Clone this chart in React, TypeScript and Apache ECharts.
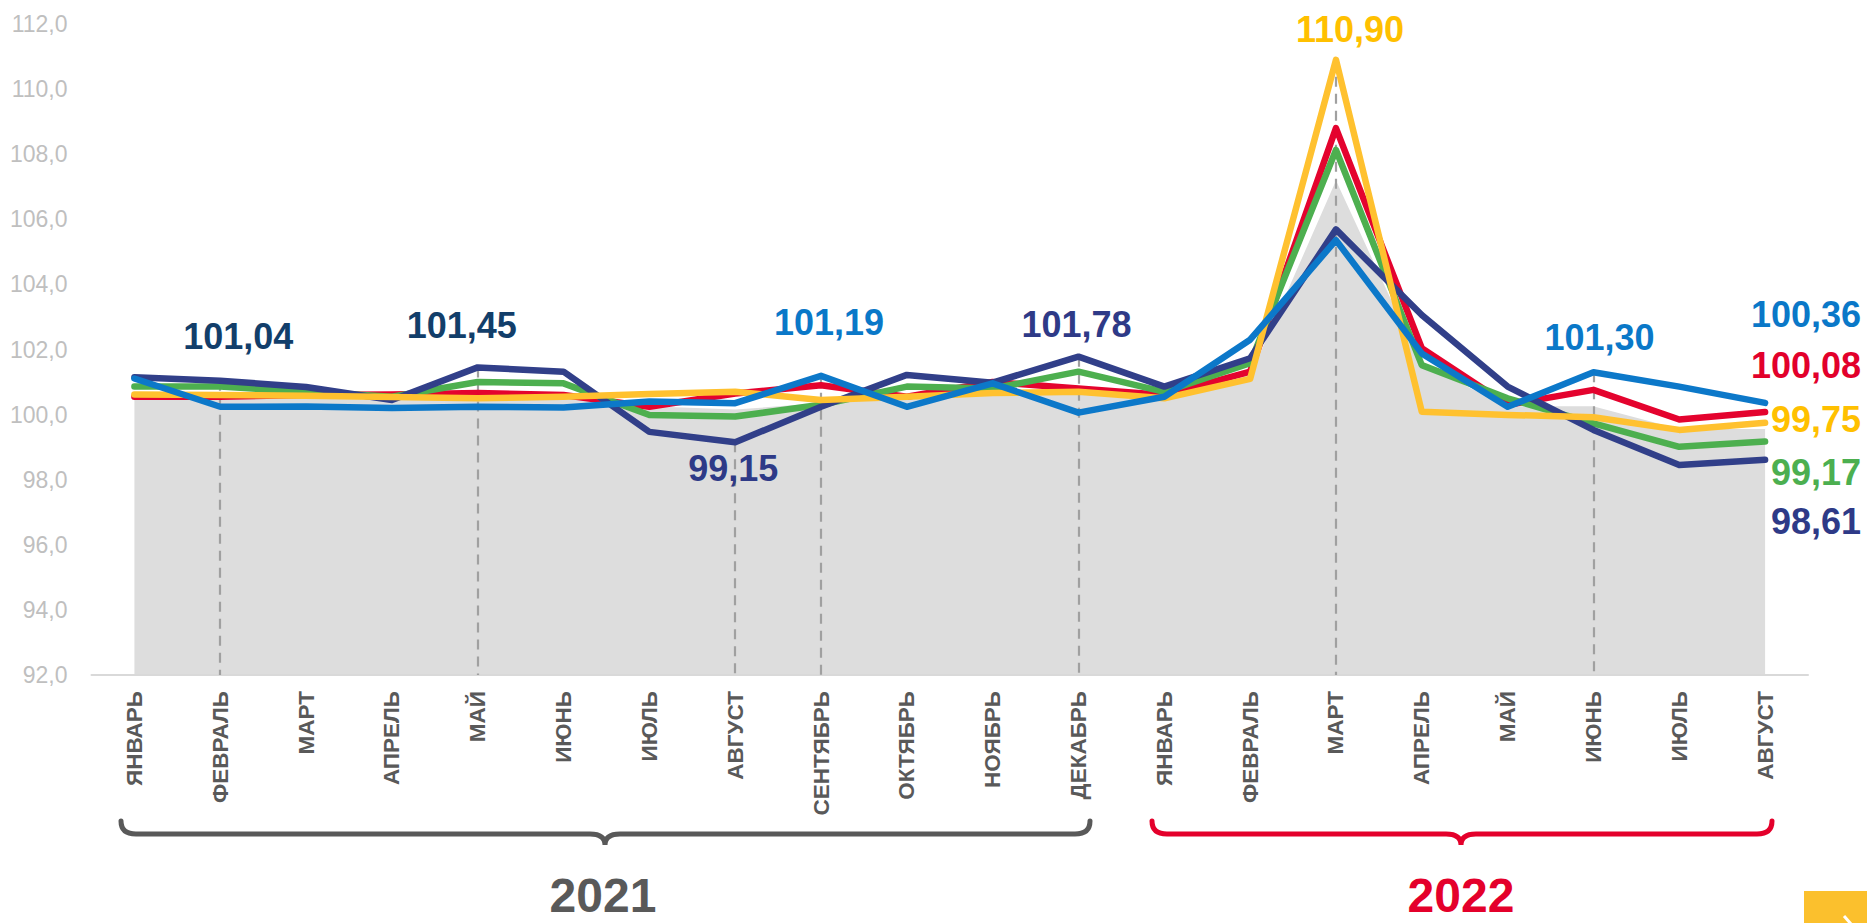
import React, { useEffect, useRef } from "react";
import * as echarts from "echarts";

const categories = [
  "ЯНВАРЬ", "ФЕВРАЛЬ", "МАРТ", "АПРЕЛЬ", "МАЙ", "ИЮНЬ", "ИЮЛЬ", "АВГУСТ",
  "СЕНТЯБРЬ", "ОКТЯБРЬ", "НОЯБРЬ", "ДЕКАБРЬ",
  "ЯНВАРЬ", "ФЕВРАЛЬ", "МАРТ", "АПРЕЛЬ", "МАЙ", "ИЮНЬ", "ИЮЛЬ", "АВГУСТ",
];

const yearLabels = ["2021", "2022"];

const greyArea = [100.6, 100.5, 100.6, 100.5, 100.6, 100.6, 100.3, 100.2, 100.4, 100.6, 100.7, 100.7, 100.6, 101.3, 107.3, 101.6, 100.3, 100.3, 99.6, 99.6];
const navy = [101.15, 101.04, 100.85, 100.45, 101.45, 101.32, 99.47, 99.15, 100.24, 101.22, 100.98, 101.78, 100.86, 101.73, 105.69, 103.06, 100.86, 99.53, 98.45, 98.61];
const red = [100.55, 100.55, 100.6, 100.62, 100.66, 100.6, 100.24, 100.65, 100.9, 100.55, 101.0, 100.8, 100.6, 101.32, 108.8, 102.04, 100.3, 100.76, 99.85, 100.08];
const green = [100.86, 100.86, 100.7, 100.55, 101.0, 100.96, 99.99, 99.94, 100.3, 100.86, 100.8, 101.32, 100.7, 101.58, 108.13, 101.52, 100.5, 99.73, 99.01, 99.17];
const yellow = [100.62, 100.6, 100.58, 100.54, 100.5, 100.55, 100.63, 100.7, 100.45, 100.55, 100.66, 100.7, 100.5, 101.1, 110.9, 100.09, 99.99, 99.92, 99.53, 99.75];
const blue = [101.11, 100.24, 100.25, 100.2, 100.24, 100.22, 100.4, 100.35, 101.19, 100.24, 100.96, 100.06, 100.55, 102.3, 105.36, 101.88, 100.24, 101.3, 100.86, 100.36];

const yMin = 92;
const yMax = 112;
const yStep = 2;

const FONT = "'Liberation Sans', Arial, Helvetica, sans-serif";

const brace2021 =
  "M 121 821 Q 121 834 136 834 L 590 834 Q 605 834 605 845 Q 605 834 620 834 L 1075 834 Q 1090 834 1090 821";
const brace2022 =
  "M 1152 821 Q 1152 834 1167 834 L 1446 834 Q 1461 834 1461 845 Q 1461 834 1476 834 L 1757 834 Q 1772 834 1772 821";

let registered = false;
function registerShapes() {
  if (registered) return;
  registered = true;
  echarts.graphic.registerShape("brace2021", echarts.graphic.extendPath(brace2021, {}));
  echarts.graphic.registerShape("brace2022", echarts.graphic.extendPath(brace2022, {}));
}

const fmt2 = (v: number) => v.toFixed(2).replace(".", ",");

type LabelSpec = { dx: number; dy: number; color: string; align?: string };

function withLabels(values: number[], specs: Record<number, LabelSpec>) {
  return values.map((v, i) => {
    const s = specs[i];
    if (!s) return v;
    return {
      value: v,
      label: {
        show: true,
        position: "inside",
        align: s.align || "center",
        verticalAlign: "middle",
        offset: [s.dx, s.dy],
        formatter: () => fmt2(v),
        color: s.color,
        fontFamily: FONT,
        fontWeight: "bold",
        fontSize: 36,
      },
    };
  });
}

function lineSeries(name: string, values: number[], color: string, z: number, specs: Record<number, LabelSpec>) {
  return {
    name,
    type: "line",
    data: withLabels(values, specs),
    z,
    symbol: "circle",
    symbolSize: 1,
    showSymbol: true,
    showAllSymbol: true,
    itemStyle: { color },
    lineStyle: { color, width: 6.5, cap: "round", join: "round" },
    emphasis: { disabled: true },
  };
}

export default function App() {
  const ref = useRef<HTMLDivElement>(null);

  useEffect(() => {
    if (!ref.current) return;
    registerShapes();
    const chart = echarts.init(ref.current, undefined, { renderer: "svg" });

    const navyLbl = "#2E3A87";
    const darkLbl = "#123E6A";
    const endDx = 96;

    const dashed = [
      [1, navy[1]],
      [4, navy[4]],
      [7, navy[7]],
      [8, blue[8]],
      [11, navy[11]],
      [14, yellow[14]],
      [17, blue[17]],
    ].map(([i, v]) => [{ coord: [i, v] }, { coord: [i, yMin] }]);

    chart.setOption({
      animation: false,
      backgroundColor: "#ffffff",
      grid: { left: 91.5, right: 59, top: 24, bottom: 248, containLabel: false },
      xAxis: {
        type: "category",
        boundaryGap: true,
        data: categories,
        axisLine: { show: true, lineStyle: { color: "#D9D9D9", width: 2 } },
        axisTick: { show: false },
        splitLine: { show: false },
        axisLabel: {
          interval: 0,
          rotate: 90,
          margin: 16,
          fontFamily: FONT,
          fontSize: 22.5,
          fontWeight: "bold",
          color: "#595959",
        },
      },
      yAxis: {
        type: "value",
        min: yMin,
        max: yMax,
        interval: yStep,
        axisLine: { show: false },
        axisTick: { show: false },
        splitLine: { show: false },
        axisLabel: {
          margin: 24,
          fontFamily: FONT,
          fontSize: 23,
          color: "#BFBFBF",
          formatter: (v: number) => v.toFixed(1).replace(".", ","),
        },
      },
      series: [
        {
          name: "Фон",
          type: "line",
          data: greyArea,
          z: 0,
          symbol: "none",
          lineStyle: { color: "#FFFFFF", width: 3 },
          areaStyle: { color: "#DDDDDD", opacity: 1 },
          emphasis: { disabled: true },
          markLine: {
            z: 1,
            silent: true,
            symbol: ["none", "none"],
            label: { show: false },
            lineStyle: { type: [10, 7], color: "#A0A0A0", width: 2.2 },
            emphasis: { disabled: true },
            data: dashed,
          },
        },
        lineSeries("Красная", red, "#E4032E", 2, {
          19: { dx: endDx, dy: -46.5, color: "#E2002B", align: "right" },
        }),
        lineSeries("Зелёная", green, "#4DAF4F", 3, {
          19: { dx: endDx, dy: 31, color: "#4CAF50", align: "right" },
        }),
        lineSeries("Синяя тёмная", navy, "#313F89", 4, {
          1: { dx: 18, dy: -44, color: darkLbl },
          4: { dx: -16, dy: -42, color: darkLbl },
          7: { dx: -2, dy: 26, color: navyLbl },
          11: { dx: -2, dy: -32, color: navyLbl },
          19: { dx: endDx, dy: 62, color: navyLbl, align: "right" },
        }),
        lineSeries("Жёлтая", yellow, "#FFC12F", 5, {
          14: { dx: 14, dy: -30, color: "#FFC000" },
          19: { dx: endDx, dy: -3.5, color: "#FFC000", align: "right" },
        }),
        lineSeries("Голубая", blue, "#0C78C9", 6, {
          8: { dx: 8, dy: -53, color: "#0A78C8" },
          17: { dx: 6, dy: -35, color: "#0A78C8" },
          19: { dx: endDx, dy: -88, color: "#0A78C8", align: "right" },
        }),
      ],
      graphic: [
        {
          type: "brace2021",
          x: 0,
          y: 0,
          silent: true,
          style: { fill: "none", stroke: "#595959", lineWidth: 5, lineCap: "round" },
        },
        {
          type: "brace2022",
          x: 0,
          y: 0,
          silent: true,
          style: { fill: "none", stroke: "#E4002B", lineWidth: 5, lineCap: "round" },
        },
        {
          type: "text",
          x: 603,
          y: 895,
          silent: true,
          style: {
            text: yearLabels[0],
            fill: "#595959",
            font: `bold 48px ${FONT}`,
            lineHeight: 36,
            align: "center",
            verticalAlign: "middle",
          },
        },
        {
          type: "text",
          x: 1461,
          y: 895,
          silent: true,
          style: {
            text: yearLabels[1],
            fill: "#E4002B",
            font: `bold 48px ${FONT}`,
            lineHeight: 36,
            align: "center",
            verticalAlign: "middle",
          },
        },
        {
          type: "rect",
          silent: true,
          shape: { x: 1804, y: 891, width: 63, height: 32 },
          style: { fill: "#FBC02D" },
        },
        {
          type: "line",
          silent: true,
          shape: { x1: 1844, y1: 916, x2: 1851, y2: 924 },
          style: { stroke: "#FFFFFF", lineWidth: 3 },
        },
      ],
    });

    return () => {
      chart.dispose();
    };
  }, []);

  return (
    <div
      ref={ref}
      style={{ position: "fixed", left: 0, top: 0, width: "1867px", height: "923px", background: "#fff" }}
    />
  );
}
